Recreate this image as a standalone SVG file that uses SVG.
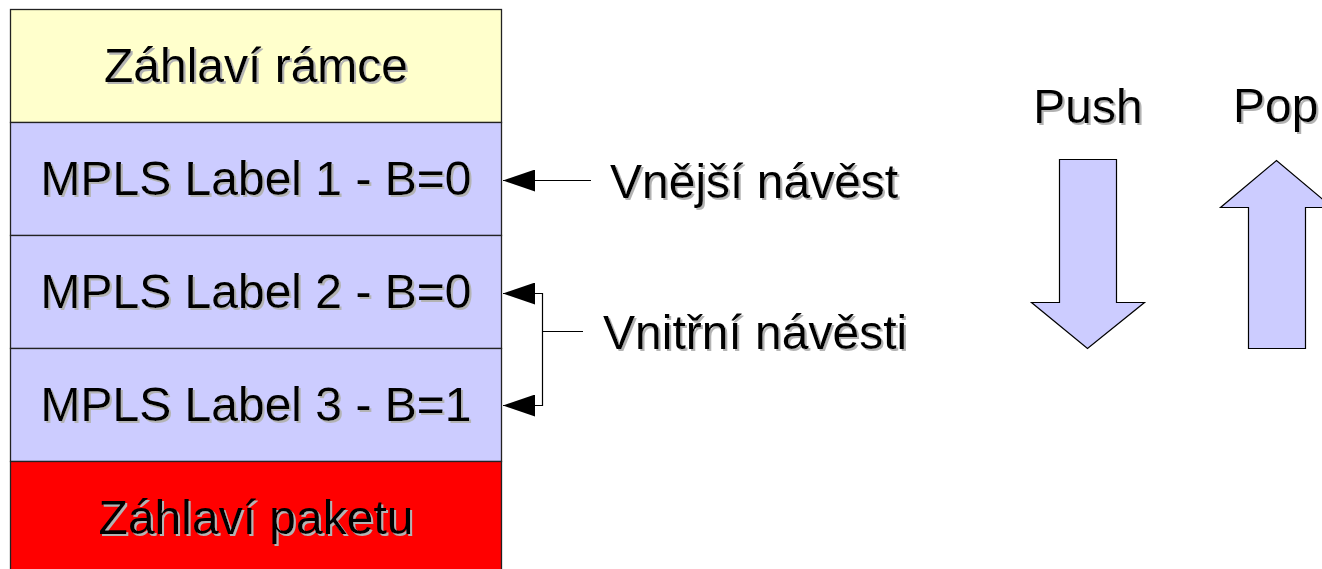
<svg xmlns="http://www.w3.org/2000/svg" width="1322" height="569" viewBox="0 0 1322 569">
  <defs>
    <filter id="shadow" x="-5%" y="-5%" width="115%" height="130%">
      <feOffset in="SourceAlpha" dx="2" dy="2" result="off"/>
      <feFlood flood-color="#b3b3b3"/>
      <feComposite in2="off" operator="in" result="sh"/>
      <feMerge><feMergeNode in="sh"/><feMergeNode in="SourceGraphic"/></feMerge>
    </filter>
    <!-- filled triangle, tip sits on the end point of the line -->
    <marker id="head" viewBox="0 0 32 22" refX="32" refY="11" markerWidth="32" markerHeight="22" markerUnits="userSpaceOnUse" orient="auto">
      <path d="M0 0 L32 11 L0 22 Z" fill="#000"/>
    </marker>
  </defs>
  <style>
    .box { stroke: #222; stroke-width: 1.3; }
    .t { font-family: "Liberation Sans", Arial, sans-serif; font-size: 48px; fill: #000; filter: url(#shadow); }
    .c { text-anchor: middle; }
    .line { stroke: #000; stroke-width: 1.2; fill: none; }
    .big { fill: #ccccff; stroke: #000; stroke-width: 1.2; stroke-linejoin: miter; }
  </style>
  <rect width="1322" height="569" fill="#fff"/>

  <g id="frame-header">
    <rect class="box" x="10.5" y="9.5" width="491" height="113" fill="#ffffcc"/>
    <text class="t c" x="256" y="82">Záhlaví rámce</text>
  </g>
  <g id="label-1">
    <rect class="box" x="10.5" y="122.5" width="491" height="113" fill="#ccccff"/>
    <text class="t c" x="256" y="195">MPLS Label 1 - B=0</text>
  </g>
  <g id="label-2">
    <rect class="box" x="10.5" y="235.5" width="491" height="113" fill="#ccccff"/>
    <text class="t c" x="256" y="308">MPLS Label 2 - B=0</text>
  </g>
  <g id="label-3">
    <rect class="box" x="10.5" y="348.5" width="491" height="113" fill="#ccccff"/>
    <text class="t c" x="256" y="421">MPLS Label 3 - B=1</text>
  </g>
  <g id="packet-header">
    <rect class="box" x="10.5" y="461.5" width="491" height="120" fill="#ff0000"/>
    <text class="t c" x="256" y="534">Záhlaví paketu</text>
  </g>

  <g id="outer-label">
    <text class="t" x="610" y="198" font-size="47">Vnější návěst</text>
  </g>
  <g id="inner-labels">
    <text class="t" x="603" y="349" font-size="47">Vnitřní návěsti</text>
  </g>

  <g id="connectors">
    <path class="line" d="M591 180.5 H503" marker-end="url(#head)"/>
    <path class="line" d="M583 331.5 H542.5 M542.5 293 V406"/>
    <path class="line" d="M542.5 293.5 H503" marker-end="url(#head)"/>
    <path class="line" d="M542.5 405.5 H503" marker-end="url(#head)"/>
  </g>

  <g id="push">
    <text class="t c" x="1088" y="123" font-size="44">Push</text>
    <path class="big" d="M1059.5 159.5 H1116.5 V302.5 H1144.5 L1087.5 348.5 L1031.5 302.5 H1059.5 Z"/>
  </g>
  <g id="pop">
    <text class="t" x="1233" y="122" font-size="45">Pop</text>
    <path class="big" d="M1248.5 348.5 V207.5 H1220.5 L1276.5 160.5 L1332.5 207.5 H1305.5 V348.5 Z"/>
  </g>
</svg>
